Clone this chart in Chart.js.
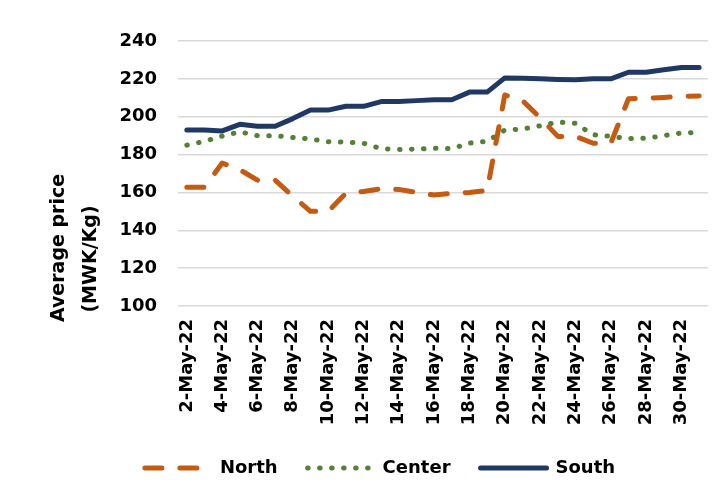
<!DOCTYPE html>
<html>
<head>
<meta charset="utf-8">
<script src="https://cdn.jsdelivr.net/npm/chart.js@4.4.1/dist/chart.umd.min.js"></script>
<style>
  html, body { margin: 0; padding: 0; background: #fff; }
  #wrap { width: 726px; height: 495px; }
</style>
</head>
<body>
<div id="wrap"><canvas id="priceChart"></canvas></div>
<script>
// daily average prices, May 2022 (MWK/Kg)
const days = ['2-May-22','3-May-22','4-May-22','5-May-22','6-May-22','7-May-22','8-May-22','9-May-22',
  '10-May-22','11-May-22','12-May-22','13-May-22','14-May-22','15-May-22','16-May-22','17-May-22',
  '18-May-22','19-May-22','20-May-22','21-May-22','22-May-22','23-May-22','24-May-22','25-May-22',
  '26-May-22','27-May-22','28-May-22','29-May-22','30-May-22','31-May-22'];
const north = [162.7, 162.7, 175.5, 172, 166.5, 166.5, 158, 150, 150, 159.5, 160.5, 162, 161.6, 160, 158.6,
  159.5, 160, 161, 211.5, 208.5, 199.5, 189.6, 189.6, 186, 186, 209.5, 209.7, 210.2, 210.8, 211];
const center = [185, 187, 189.8, 192, 190, 190, 189, 188.2, 186.8, 186.6, 186, 183.1, 182.7, 182.9, 183.3,
  183.1, 186.1, 187, 193, 193.5, 195.2, 197.2, 196.5, 190.5, 189.6, 188.4, 188.6, 190, 191.4, 191.6];
const south = [193, 193, 192.5, 196, 195, 195, 199, 203.5, 203.5, 205.5, 205.5, 208, 208, 208.5, 209,
  209, 213, 213, 220.5, 220.3, 220, 219.7, 219.5, 220, 220, 223.5, 223.5, 224.8, 226, 226];
const yTitle = ['Average price', '(MWK/Kg)'];

const FONT = 'DejaVu Sans';

// axis title drawn centred on the whole figure height, like the original
const yTitlePlugin = {
  id: 'yTitle',
  afterDraw(chart) {
    const ctx = chart.ctx;
    ctx.save();
    ctx.fillStyle = '#000';
    ctx.font = 'bold 19px "' + FONT + '"';
    ctx.textAlign = 'center';
    ctx.textBaseline = 'alphabetic';
    [[64, 248], [96, 259]].forEach((p, i) => {
      ctx.save();
      ctx.translate(p[0], p[1]);
      ctx.rotate(-Math.PI / 2);
      ctx.fillText(yTitle[i], 0, 0);
      ctx.restore();
    });
    ctx.restore();
  }
};

const ctx = document.getElementById('priceChart').getContext('2d');
const chart = new Chart(ctx, {
  type: 'line',
  data: {
    labels: days,
    datasets: [
      {
        label: 'North',
        data: north,
        borderColor: '#c55a11',
        backgroundColor: '#c55a11',
        borderWidth: 5,
        borderDash: [17, 18],
        borderCapStyle: 'round',
        borderJoinStyle: 'round',
        pointRadius: 0,
        tension: 0
      },
      {
        label: 'Center',
        data: center,
        borderColor: '#548235',
        backgroundColor: '#548235',
        borderWidth: 5,
        borderDash: [0.5, 11.5],
        borderCapStyle: 'round',
        borderJoinStyle: 'round',
        pointRadius: 0,
        tension: 0
      },
      {
        label: 'South',
        data: south,
        borderColor: '#203864',
        backgroundColor: '#203864',
        borderWidth: 5,
        borderCapStyle: 'round',
        borderJoinStyle: 'round',
        pointRadius: 0,
        tension: 0
      }
    ]
  },
  options: {
    responsive: true,
    maintainAspectRatio: false,
    animation: false,
    layout: { padding: { left: 51, right: 17, top: 41, bottom: 8 } },
    scales: {
      x: {
        offset: true,
        grid: { display: false },
        border: { display: false },
        afterFit(scale) { scale.height = 123; },
        ticks: {
          autoSkip: false,
          maxRotation: 90,
          minRotation: 90,
          padding: 5,
          color: '#000',
          font: { family: FONT, size: 18, weight: 'bold' },
          callback(value, index) { return index % 2 === 0 ? days[index] : ''; }
        }
      },
      y: {
        min: 100,
        max: 240,
        grid: { color: '#d9d9d9', lineWidth: 1.5, drawTicks: false },
        border: { display: false },
        afterFit(scale) { scale.width = 127; },
        ticks: {
          stepSize: 20,
          padding: 21,
          color: '#000',
          font: { family: FONT, size: 18, weight: 'bold' }
        }
      }
    },
    plugins: {
      legend: {
        position: 'bottom',
        labels: {
          usePointStyle: true,
          pointStyle: 'line',
          pointStyleWidth: 66,
          padding: 30,
          color: '#000',
          font: { family: FONT, size: 18, weight: 'bold' },
          // the point style loses the dash pattern, so copy it from the datasets
          generateLabels(ch) {
            const items = Chart.defaults.plugins.legend.labels.generateLabels(ch);
            items.forEach(item => {
              const ds = ch.data.datasets[item.datasetIndex];
              item.lineDash = ds.borderDash || [];
              item.lineCap = ds.borderCapStyle;
              item.lineWidth = ds.borderWidth;
              item.strokeStyle = ds.borderColor;
              item.pointStyle = 'line';
            });
            return items;
          }
        }
      },
      tooltip: { enabled: false }
    }
  },
  plugins: [yTitlePlugin]
});
</script>
</body>
</html>
